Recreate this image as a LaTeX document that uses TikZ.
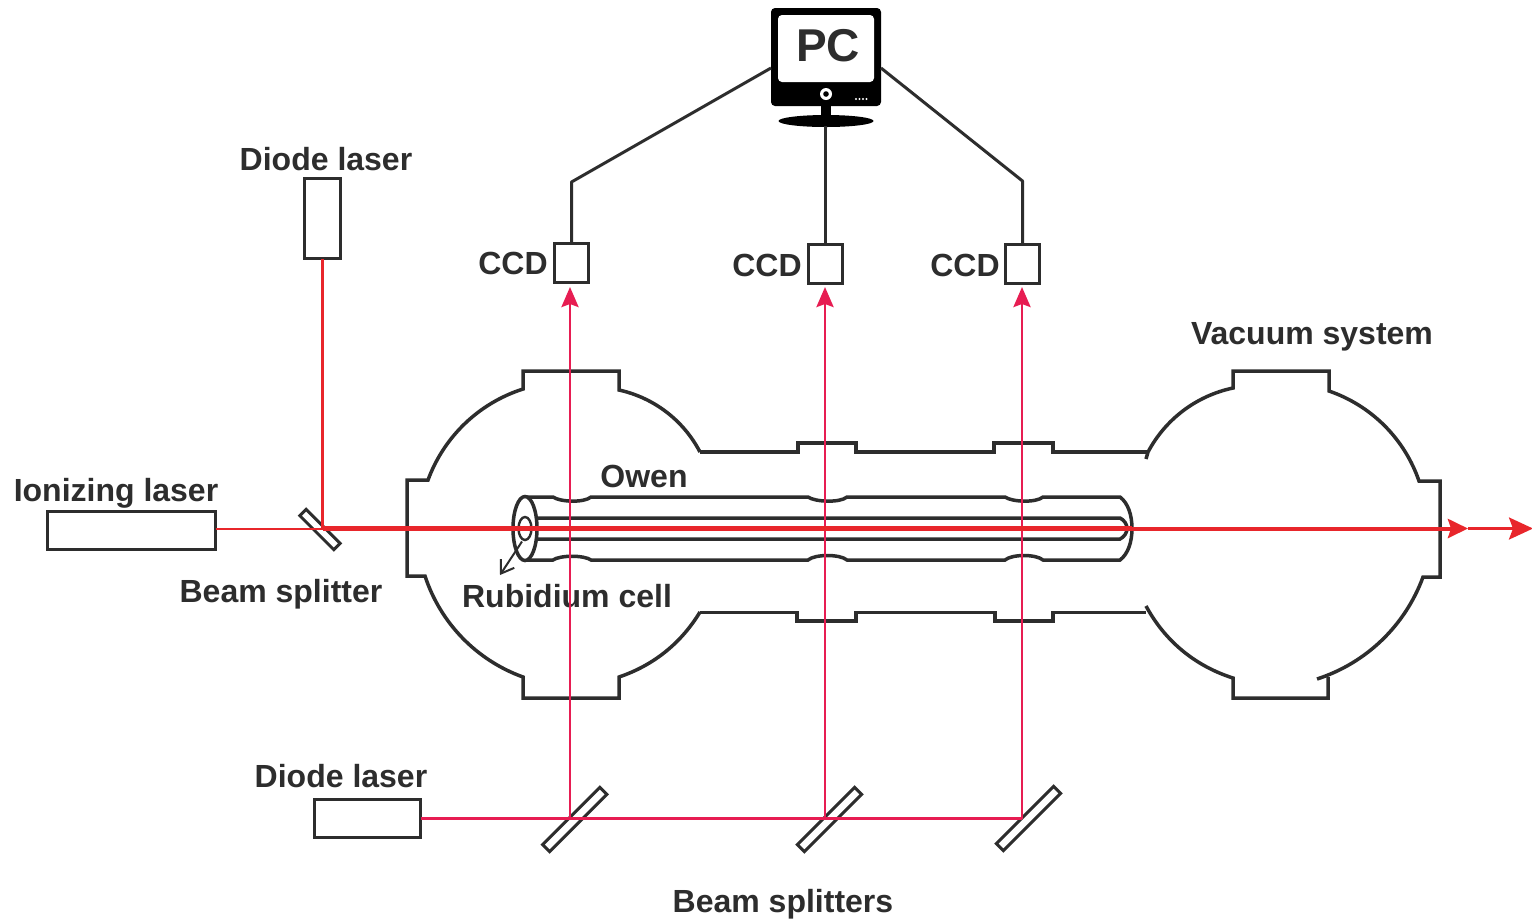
\documentclass[tikz,border=0pt]{standalone}
\usepackage{fontspec}
\setmainfont{Liberation Sans}
\usetikzlibrary{arrows.meta}
\definecolor{ink}{HTML}{2D2D2D}
\definecolor{beamred}{HTML}{E8262B}
\definecolor{crim}{HTML}{E71D52}
\tikzset{
  x=0.5pt,y=-0.5pt,
  wall/.style={draw=ink,line width=1.75pt,line join=miter},
  thinwall/.style={draw=ink,line width=1.2pt},
  devbox/.style={draw=ink,line width=1.7pt,fill=white,inner sep=0pt,outer sep=0pt},
  mirror/.style={draw=ink,line width=1.5pt,fill=white,inner sep=0pt,outer sep=0pt},
  lab/.style={text=ink,font=\fontsize{16}{18}\selectfont\bfseries,inner sep=0pt,anchor=base},
  wire/.style={draw=ink,line width=1.5pt},
  probe/.style={draw=crim,line width=1.45pt},
  probetip/.style={-{Stealth[length=10pt,width=8.5pt,inset=1.5pt]}},
  ion/.style={draw=beamred},
  arcL/.style={looseness=0.9}
}
\begin{document}
\begin{tikzpicture}
\useasboundingbox (0,0) rectangle (1532,918);
\fill[white] (0,0) rectangle (1532,918);

% left chamber
\draw[wall] (700,452) to[bend right=25,arcL] (619,390) -- (619,371) -- (523,371) -- (523,389)
  to[bend right=26,arcL] (428,480) -- (407,480) -- (407,576) -- (425,576)
  to[bend right=26,arcL] (523,677) -- (523,698) -- (619,698) -- (619,677)
  to[bend right=20,arcL] (700,612);
% right chamber
\draw[wall] (1146,459) -- (1148,452) to[bend left=25,arcL] (1233,388) -- (1233,371) -- (1329,371) -- (1329,391)
  to[bend left=26,arcL] (1419,481) -- (1440,481) -- (1440,577) -- (1423,577)
  to[bend left=26,arcL] (1317,679);
\draw[wall] (1328,677) -- (1328,698) -- (1233,698) -- (1233,678)
  to[bend left=22,arcL] (1146,606);
% connecting tube
\draw[wall] (700,452) -- (798,452) -- (798,443) -- (856,443) -- (856,452) -- (994,452) -- (994,443)
  -- (1053,443) -- (1053,452) -- (1148,452);
\draw[wall] (700,612.5) -- (797,612.5) -- (797,621) -- (856,621) -- (856,612.5) -- (995,612.5) -- (995,621)
  -- (1053,621) -- (1053,612.5) -- (1146,612.5);

% rubidium cell
\draw[wall] (525,497) -- (553,497) .. controls (560,502) and (584,503) .. (591,497)
  -- (808,497) .. controls (815,502) and (840,503) .. (847,497)
  -- (1005,497) .. controls (1012,502) and (1036,503) .. (1043,497)
  -- (1120,497) .. controls (1128,503) and (1132,515) .. (1132,528.5)
  .. controls (1132,542) and (1128,554) .. (1120,560)
  -- (1043,560) .. controls (1036,554) and (1012,554) .. (1005,560)
  -- (847,560) .. controls (840,554) and (815,554) .. (808,560)
  -- (591,560) .. controls (584,555) and (560,555) .. (553,560) -- (525,560);
\draw[wall] (525,518) -- (1120,518) .. controls (1124,520) and (1127,524) .. (1127,528.5)
  .. controls (1127,533) and (1124,537) .. (1120,539) -- (525,539);
\draw[wall,fill=white] (525,528.5) ellipse [x radius=12,y radius=32];
\draw[thinwall] (525,528.5) ellipse [x radius=6.5,y radius=11.5];
\coordinate (cellrim) at (522,541.5);
\coordinate (celltag) at (500,575);
\draw[draw=ink,line width=1pt,-{Straight Barb[length=6pt,width=8pt]}] (cellrim) -- (celltag);

% labels
\node[lab] (lDiodeT) at (326,170) {Diode laser};
\node[lab] (lIon) at (116,501) {Ionizing laser};
\node[lab] (lBS) at (281,602) {Beam splitter};
\node[lab] (lOwen) at (644,487) {Owen};
\node[lab] (lRb) at (567,607) {Rubidium cell};
\node[lab] (lCCDa) at (513,274) {CCD};
\node[lab] (lCCDb) at (767,276) {CCD};
\node[lab] (lCCDc) at (965,276) {CCD};
\node[lab] (lVac) at (1312,344) {Vacuum system};
\node[lab] (lDiodeB) at (341,787) {Diode laser};
\node[lab] (lBSs) at (783,912) {Beam splitters};

% devices
\node[devbox,minimum width=18pt,minimum height=40pt] (diodeT) at (322.5,218.5) {};
\node[devbox,minimum width=84pt,minimum height=19pt] (ionlaser) at (131.5,530.5) {};
\node[devbox,minimum width=53pt,minimum height=19pt] (diodeB) at (367.5,818.5) {};
\node[devbox,minimum width=17pt,minimum height=19.5pt] (ccda) at (571.5,263) {};
\node[devbox,minimum width=17pt,minimum height=19.5pt] (ccdb) at (825.5,264) {};
\node[devbox,minimum width=17pt,minimum height=19.5pt] (ccdc) at (1022.5,264) {};
\node[mirror,rotate=-45,minimum width=24pt,minimum height=4.5pt] (bs) at (320,529.5) {};
\node[mirror,rotate=45,minimum width=40.5pt,minimum height=5pt] (bsa) at (574.7,819.5) {};
\node[mirror,rotate=45,minimum width=40.5pt,minimum height=5pt] (bsb) at (829.5,819.5) {};
\node[mirror,rotate=45,minimum width=40.5pt,minimum height=5pt] (bsc) at (1028.5,818.5) {};

% PC
\node[fill=black,rounded corners=2pt,minimum width=55pt,minimum height=49pt,inner sep=0pt] (pc) at (826,57) {};
\node[fill=white,rounded corners=2pt,minimum width=48pt,minimum height=33.5pt,inner sep=0pt] (screen) at (826,48.5) {};
\fill[black] (821,104) rectangle (831,118);
\fill[black] (826,121) ellipse [x radius=47.5,y radius=6];
\fill[white] (826,94) circle [radius=6];
\fill[black] (826,94) circle [radius=2.8];
\foreach \xx in {856,859.5,863,866.5} \fill[white] (\xx,99) circle [radius=1.1];
\node[text=ink,font=\fontsize{23}{25}\selectfont\bfseries,inner sep=0pt,anchor=base] (pclabel) at (828,61.5) {PC};

% wires
\coordinate (pcL) at (771,68);
\coordinate (pcR) at (881,68);
\coordinate (kneeL) at (571.5,182);
\coordinate (kneeR) at (1022.5,181);
\coordinate (pcBase) at (825.5,126);
\draw[wire,line join=round] (ccda.north) -- (kneeL) -- (pcL);
\draw[wire,line join=round] (ccdc.north) -- (kneeR) -- (pcR);
\draw[wire] (ccdb.north) -- (pcBase);

% probe beams
\coordinate (hitA) at (570,818.5);
\coordinate (hitB) at (825,818.5);
\coordinate (hitC) at (1022,818.5);
\draw[probe] (diodeB.east |- hitA) -- (hitC);
\coordinate (tipA) at (570,287);
\coordinate (tipB) at (825,287);
\coordinate (tipC) at (1022,287);
\draw[probe,probetip] (hitA) -- (tipA);
\draw[probe,probetip] (hitB) -- (tipB);
\draw[probe,probetip] (hitC) -- (tipC);

% ionizing and top diode beams
\coordinate (jn) at (322.5,528.5);
\coordinate (endA) at (1132,528.5);
\coordinate (tipD) at (1468,528.5);
\coordinate (tipE) at (1533,528.5);
\draw[ion,line width=1.4pt] (ionlaser.east |- 0,529) -- (322.5,529);
\draw[ion,line width=1.5pt] (diodeT.south) -- (jn);
\draw[ion,line width=1.4pt,-{Stealth[length=12pt,width=11pt,inset=2pt]}] (tipD) -- (tipE);
\draw[ion,line width=2pt,-{Stealth[length=10pt,width=9.5pt,inset=1.5pt]}] (endA) -- (tipD);
\draw[ion,line width=2.5pt] (jn) -- (endA);
\end{tikzpicture}
\end{document}
